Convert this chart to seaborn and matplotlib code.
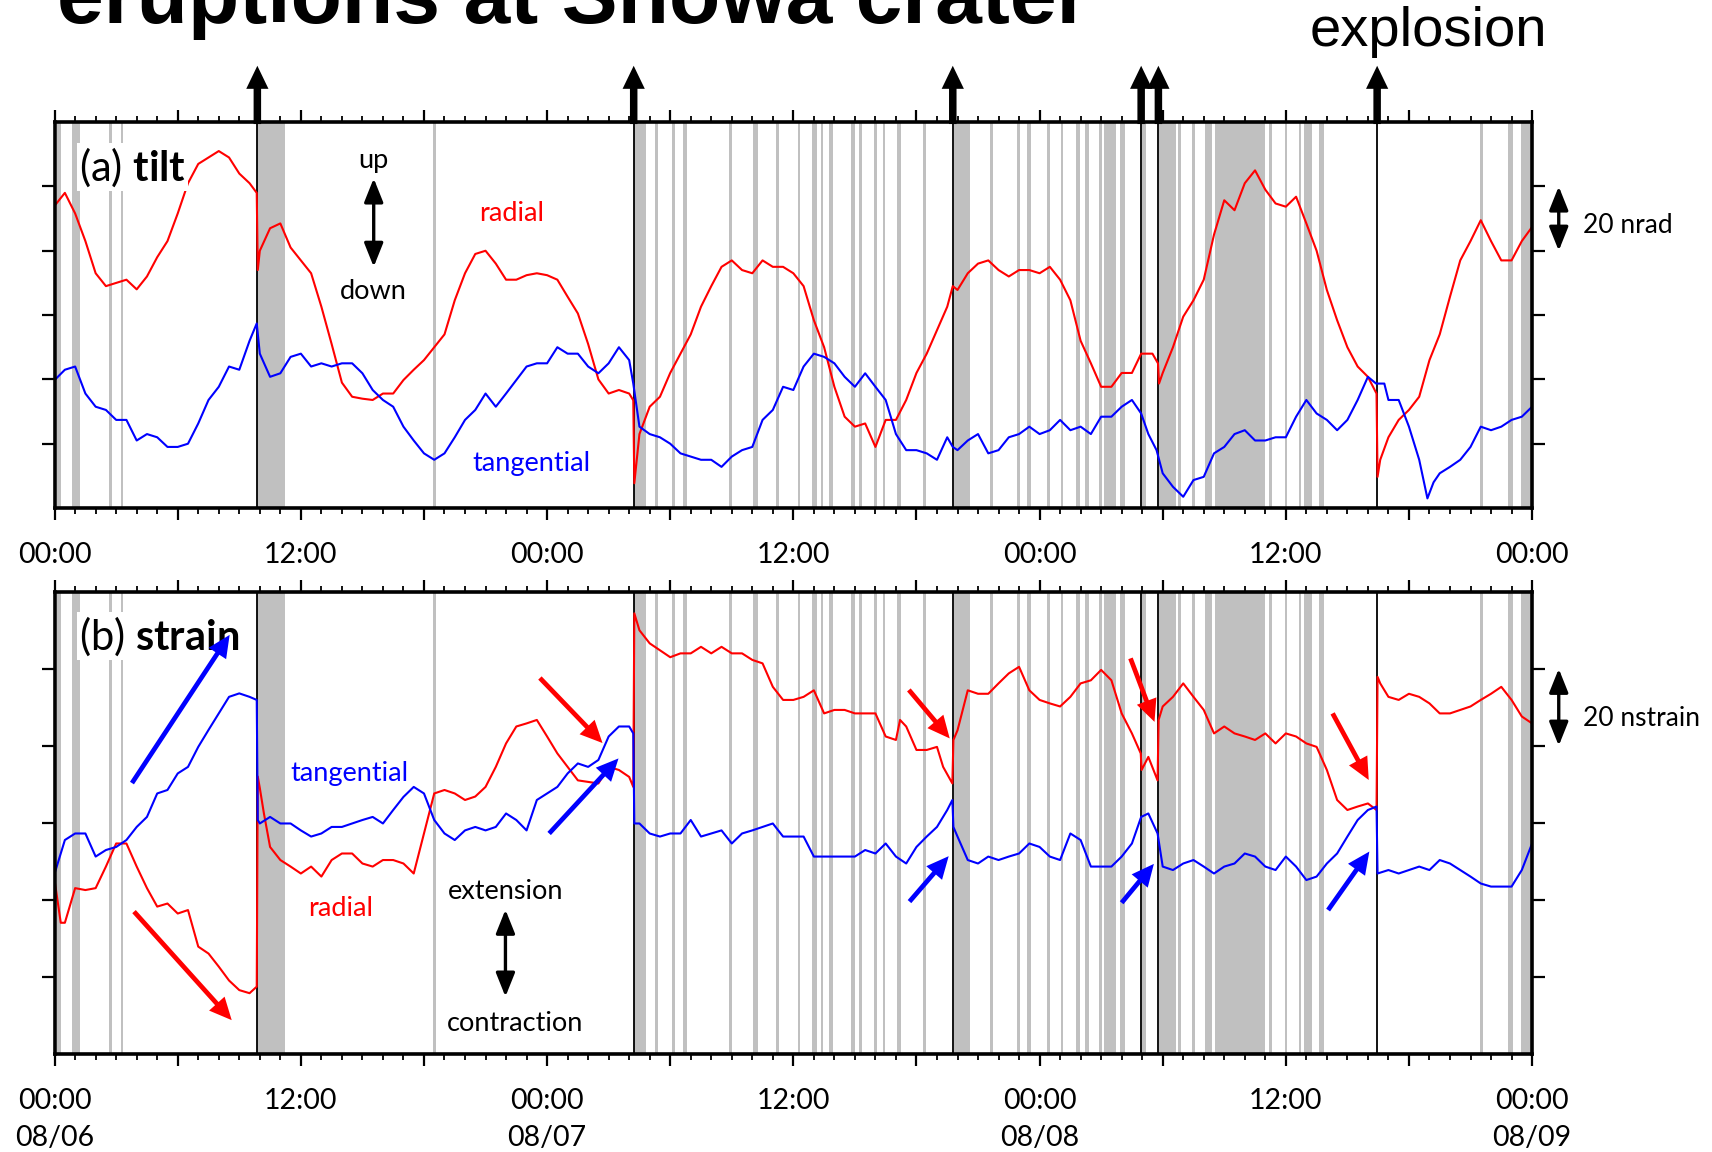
import matplotlib
matplotlib.use("Agg")
import matplotlib.pyplot as plt
import seaborn as sns
from matplotlib.ticker import FixedLocator, MultipleLocator

# ---------------- data (hours since 2011-08-06 00:00) ----------------
explosion_hours = [9.88, 28.22, 43.77, 52.95, 53.79, 64.45]

eruption_bands = [
    (0.14, 0.32), (0.83, 1.26), (2.65, 2.78), (3.25, 3.31), (9.88, 11.24),
    (18.43, 18.61), (28.23, 28.82), (29.25, 29.40), (30.09, 30.22), (30.62, 30.80),
    (32.86, 33.00), (34.05, 34.30), (35.17, 35.28), (36.22, 36.34), (36.90, 37.15),
    (37.33, 37.46), (37.75, 37.93), (38.79, 39.02), (39.18, 39.35), (39.95, 40.08),
    (40.36, 40.49), (41.07, 41.25), (42.32, 42.45), (43.81, 44.61), (45.58, 45.73),
    (46.89, 47.04), (47.41, 47.56), (48.34, 48.53), (49.03, 49.16), (49.78, 49.99),
    (50.21, 50.39), (50.90, 51.03), (51.14, 51.74), (51.93, 52.15), (53.01, 53.19),
    (53.83, 54.63), (54.73, 54.87), (55.45, 55.59), (56.08, 56.41), (56.55, 58.97),
    (59.18, 59.35), (59.98, 60.08), (60.66, 60.75), (60.89, 61.27), (61.60, 61.87),
    (69.48, 69.61), (70.83, 71.09), (71.44, 71.93),
]

tilt_radial_t = [0, 0.5, 1, 1.5, 2, 2.5, 3, 3.5, 4, 4.5, 5, 5.5, 6, 6.5, 7, 7.5, 8, 8.5, 9, 9.5, 9.85, 9.9, 10, 10.5, 11, 11.5, 12, 12.5, 13, 13.5, 14, 14.5, 15, 15.5, 16, 16.5, 17, 17.5, 18, 18.5, 19, 19.5, 20, 20.5, 21, 21.5, 22, 22.5, 23, 23.5, 24, 24.5, 25, 25.5, 26, 26.5, 27, 27.5, 28, 28.2, 28.25, 28.5, 29, 29.5, 30, 30.5, 31, 31.5, 32, 32.5, 33, 33.5, 34, 34.5, 35, 35.5, 36, 36.5, 37, 37.5, 38, 38.5, 39, 39.5, 40, 40.5, 41, 41.5, 42, 42.5, 43, 43.5, 43.77, 44, 44.5, 45, 45.5, 46, 46.5, 47, 47.5, 48, 48.5, 49, 49.5, 50, 50.5, 51, 51.5, 52, 52.5, 52.95, 53.5, 53.77, 53.82, 54, 54.5, 55, 55.5, 56, 56.5, 57, 57.5, 58, 58.5, 59, 59.5, 60, 60.5, 61, 61.5, 62, 62.5, 63, 63.5, 64, 64.42, 64.47, 64.6, 65, 65.5, 66, 66.5, 67, 67.5, 68, 68.5, 69, 69.5, 70, 70.5, 71, 71.5, 72]
tilt_radial_v = [94, 98, 91.6, 83, 73, 69, 70, 71, 68, 72, 78, 83, 91.6, 101, 107, 109, 111, 109, 104, 101, 98, 74, 80, 87, 88.5, 81, 77, 73, 62.6, 51, 39, 34.6, 34, 33.6, 35.6, 35.6, 39.8, 43, 46, 50, 54, 64.6, 73, 79, 80, 76, 71, 71, 72.4, 73, 72.4, 71, 65.7, 60.5, 51, 40, 35.6, 36.7, 35.6, 33.5, 7.7, 23, 31.5, 34.6, 42, 48, 54, 62.6, 69, 75, 77, 74, 73, 77, 75, 75, 73, 69, 58.4, 50, 37.7, 28.4, 25.3, 26.3, 19, 27.4, 27.4, 33.6, 42, 48, 55.3, 62.6, 69, 67.8, 73, 76, 77, 74, 72, 74, 74, 73, 75, 71, 64.6, 52, 45, 37.7, 37.7, 42, 42, 48, 48, 45, 38.7, 42, 50, 59.5, 64.6, 71, 85, 95.7, 92.6, 101, 105, 99, 94.7, 93.7, 96.8, 88.5, 80, 67.8, 58.4, 50, 44, 40.8, 35.6, 9.7, 15, 22, 27.4, 30.5, 34.6, 46, 54, 65.7, 77, 83, 89.5, 83, 77, 77, 83, 87.4]

tilt_tangential_t = [0, 0.5, 1, 1.5, 2, 2.5, 3, 3.5, 4, 4.5, 5, 5.5, 6, 6.5, 7, 7.5, 8, 8.5, 9, 9.5, 9.85, 10, 10.5, 11, 11.5, 12, 12.5, 13, 13.5, 14, 14.5, 15, 15.5, 16, 16.5, 17, 17.5, 18, 18.5, 19, 19.5, 20, 20.5, 21, 21.5, 22, 22.5, 23, 23.5, 24, 24.5, 25, 25.5, 26, 26.5, 27, 27.5, 28, 28.2, 28.5, 29, 29.5, 30, 30.5, 31, 31.5, 32, 32.5, 33, 33.5, 34, 34.5, 35, 35.5, 36, 36.5, 37, 37.5, 38, 38.5, 39, 39.5, 40, 40.5, 41, 41.5, 42, 42.5, 43, 43.5, 43.77, 44, 44.5, 45, 45.5, 46, 46.5, 47, 47.5, 48, 48.5, 49, 49.5, 50, 50.5, 51, 51.5, 52, 52.5, 52.95, 53.3, 53.7, 54, 54.5, 55, 55.5, 56, 56.5, 57, 57.5, 58, 58.5, 59, 59.5, 60, 60.5, 61, 61.5, 62, 62.5, 63, 63.5, 64, 64.4, 64.8, 65, 65.5, 66, 66.5, 66.9, 67.2, 67.5, 68, 68.5, 69, 69.5, 70, 70.5, 71, 71.5, 72]
tilt_tangential_v = [39.8, 43, 44, 35.6, 31.5, 30.5, 27.4, 27.4, 21, 23, 22, 19, 19, 20, 26.3, 33.6, 37.7, 44, 43, 52, 57.4, 48, 40.8, 41.9, 47, 48, 44, 45, 44, 45, 45, 41.9, 36.7, 33.6, 31.5, 25.3, 21, 17, 15, 17, 22, 27.4, 30.5, 35.6, 31.5, 35.6, 39.8, 44, 45, 45, 50, 48, 48, 44, 41.9, 45, 50, 46, 38.7, 25.3, 23, 22, 20, 17, 16, 15, 15, 12.8, 16, 18, 19, 27.4, 30.5, 37.7, 36.7, 44, 48, 47, 45, 40.8, 37.7, 41.9, 37.7, 33.6, 23, 18, 18, 17, 15, 22, 19, 18, 21, 23, 17, 18, 22, 23, 25.3, 23, 24.2, 27.4, 24.2, 25.3, 23, 28.4, 28.4, 31.5, 33.6, 29.4, 23, 18, 10.8, 6.6, 3.5, 8.7, 9.7, 17, 19, 23, 24.2, 21, 21, 22, 22, 28.4, 33.6, 29.4, 27.4, 24.2, 27.4, 33.6, 40.8, 38.7, 38.7, 33.6, 33.6, 25.3, 15, 3, 8, 10.8, 12.8, 15, 19, 25.3, 24.2, 25.3, 27.4, 28.4, 31.5]

strain_radial_t = [0, 0.3, 0.5, 1, 1.5, 2, 2.5, 3, 3.5, 4, 4.5, 5, 5.5, 6, 6.5, 7, 7.5, 8, 8.5, 9, 9.5, 9.85, 9.9, 10, 10.2, 10.5, 11, 11.5, 12, 12.5, 13, 13.5, 14, 14.5, 15, 15.5, 16, 16.5, 17, 17.5, 18, 18.5, 19, 19.5, 20, 20.5, 21, 21.5, 22, 22.5, 23, 23.5, 24, 24.5, 25, 25.5, 26, 26.5, 27, 27.5, 28, 28.2, 28.25, 28.5, 29, 29.5, 30, 30.5, 31, 31.5, 32, 32.5, 33, 33.5, 34, 34.5, 35, 35.5, 36, 36.5, 37, 37.5, 38, 38.5, 39, 39.5, 40, 40.5, 41, 41.2, 41.5, 42, 42.5, 43, 43.3, 43.75, 43.8, 44, 44.5, 45, 45.5, 46, 46.5, 47, 47.5, 48, 48.5, 49, 49.5, 50, 50.5, 51, 51.5, 52, 52.5, 52.93, 52.97, 53.3, 53.75, 53.8, 54, 54.5, 55, 55.5, 56, 56.5, 57, 57.5, 58, 58.5, 59, 59.5, 60, 60.5, 61, 61.5, 62, 62.5, 63, 63.5, 64, 64.42, 64.47, 64.6, 65, 65.5, 66, 66.5, 67, 67.5, 68, 68.5, 69, 69.5, 70, 70.5, 71, 71.5, 72]
strain_radial_v = [45, 34, 34, 43, 42.5, 43, 48.6, 54.6, 54.6, 48.6, 43, 38.2, 39, 36.4, 37.3, 27.8, 26, 22.6, 19, 16.5, 15.7, 17.4, 72, 69, 62.4, 53.7, 50.3, 48.6, 46.8, 48.6, 46, 50.3, 52, 52, 49.4, 48.6, 50.3, 50.3, 49.4, 46.8, 57.2, 67.6, 68.5, 67.6, 65.9, 66.8, 69.3, 74.5, 80.6, 85, 85.8, 86.7, 82.4, 78, 74.5, 71, 70.6, 70.2, 74.5, 73.7, 71.9, 69.3, 114.4, 110, 106.6, 104.8, 103, 104, 104, 105.7, 104, 105.7, 104, 104, 102.3, 101.4, 95.3, 91.9, 91.9, 92.7, 94.4, 88.4, 89.3, 89.3, 88.4, 88.4, 88.4, 82.4, 81.5, 86.7, 85, 78.9, 78.9, 79.7, 74.5, 70.2, 81.5, 84, 94.4, 93.5, 93.5, 96.2, 98.8, 100.5, 94.4, 91.9, 91, 90.2, 92.7, 96.2, 97, 99.7, 97, 88.4, 83.2, 78, 73.7, 77.1, 71, 86.7, 90.2, 92.7, 96.2, 92.7, 89.3, 83.2, 85, 83.2, 82.4, 81.5, 83.2, 80.6, 83.2, 82.4, 80.6, 79.7, 73.7, 65.9, 63.3, 64.2, 65, 63.3, 97.9, 96.2, 92.7, 91.9, 93.5, 92.7, 91, 88.4, 88.4, 89.3, 90.2, 91.9, 93.5, 95.3, 91.9, 87.6, 85.8]

strain_tangential_t = [0, 0.5, 1, 1.5, 2, 2.5, 3, 3.5, 4, 4.5, 5, 5.5, 6, 6.5, 7, 7.5, 8, 8.5, 9, 9.5, 9.85, 9.9, 10, 10.5, 11, 11.5, 12, 12.5, 13, 13.5, 14, 14.5, 15, 15.5, 16, 16.5, 17, 17.5, 18, 18.5, 19, 19.5, 20, 20.5, 21, 21.5, 22, 22.5, 23, 23.5, 24, 24.5, 25, 25.5, 26, 26.5, 27, 27.5, 28, 28.2, 28.25, 28.5, 29, 29.5, 30, 30.5, 31, 31.5, 32, 32.5, 33, 33.5, 34, 34.5, 35, 35.5, 36, 36.5, 37, 37.5, 38, 38.5, 39, 39.5, 40, 40.5, 41, 41.5, 42, 42.5, 43, 43.5, 43.75, 43.8, 44, 44.5, 45, 45.5, 46, 46.5, 47, 47.5, 48, 48.5, 49, 49.5, 50, 50.5, 51, 51.5, 52, 52.5, 52.95, 53.3, 53.75, 53.8, 54, 54.5, 55, 55.5, 56, 56.5, 57, 57.5, 58, 58.5, 59, 59.5, 60, 60.5, 61, 61.5, 62, 62.5, 63, 63.5, 64, 64.42, 64.47, 65, 65.5, 66, 66.5, 67, 67.5, 68, 68.5, 69, 69.5, 70, 70.5, 71, 71.5, 72]
strain_tangential_v = [46.8, 55.5, 57.2, 57.2, 51.2, 52.9, 53.7, 55.5, 58.9, 61.5, 67.6, 68.5, 72.8, 74.5, 79.7, 84.1, 88.4, 92.7, 93.6, 92.7, 91.9, 60.7, 59.8, 61.5, 59.8, 59.8, 58, 56.4, 57.2, 58.9, 58.9, 59.8, 60.7, 61.5, 59.8, 63.3, 66.7, 69.3, 67.6, 60.7, 57.2, 55.5, 58, 58.9, 58, 58.9, 62.4, 60.7, 58, 65.9, 67.6, 69.3, 72.8, 75.4, 74.5, 76.3, 82.4, 85, 85, 83.2, 59.8, 59.8, 57.2, 56.4, 57.2, 57.2, 60.7, 56.4, 57.2, 58, 54.6, 57.2, 58, 58.9, 59.8, 56.4, 56.4, 56.4, 51.2, 51.2, 51.2, 51.2, 51.2, 52.9, 52, 54.6, 51.2, 49.4, 53.7, 56.4, 58.9, 63.3, 65.9, 58.9, 56.4, 50.3, 49.4, 51.2, 50.3, 51.2, 52, 54.6, 53.7, 51.2, 50.3, 57.2, 55.5, 48.6, 48.6, 48.6, 51.2, 54.6, 61.5, 62.4, 57.2, 55.5, 48.6, 47.7, 49.4, 50.3, 48.6, 46.8, 48.6, 49.4, 52, 51.2, 48.6, 47.7, 51.2, 48.6, 45.1, 46, 49.4, 52, 56.4, 60.7, 63.3, 64.2, 46.8, 47.7, 46.8, 47.7, 48.6, 47.7, 50.3, 49.4, 47.7, 46, 44.2, 43.4, 43.4, 43.4, 47.7, 54.6]

tick_hours = [0, 6, 12, 18, 24, 30, 36, 42, 48, 54, 60, 66, 72]
tilt_tick_labels = ["00:00", "", "12:00", "", "00:00", "", "12:00", "", "00:00", "", "12:00", "", "00:00"]
strain_tick_labels = ["00:00\n08/06", "", "12:00", "", "00:00\n08/07", "", "12:00", "",
                      "00:00\n08/08", "", "12:00", "", "00:00\n08/09"]

# ---------------- style ----------------
sns.set_theme(style="white")
plt.rcParams["font.family"] = ["Lato", "DejaVu Sans"]
plt.rcParams["mathtext.fontset"] = "custom"
plt.rcParams["mathtext.rm"] = "Lato"
plt.rcParams["mathtext.bf"] = "Lato:bold"
plt.rcParams["text.color"] = "black"

RED = "#ff0000"
BLUE = "#0000ff"
GRAY = "#c0c0c0"

fig = plt.figure(figsize=(17.12, 11.52), dpi=100)
ax_a = fig.add_axes([0.0319, 0.559, 0.863, 0.335])
ax_b = fig.add_axes([0.0319, 0.0854, 0.863, 0.4009])


def style_axis(ax, labels):
    ax.set_xlim(0, 72)
    ax.set_ylim(0, 120)
    ax.xaxis.set_major_locator(FixedLocator(tick_hours))
    ax.set_xticklabels(labels)
    ax.xaxis.set_minor_locator(MultipleLocator(1))
    ax.yaxis.set_major_locator(FixedLocator([20, 40, 60, 80, 100]))
    ax.set_yticklabels([])
    ax.tick_params(axis="x", which="major", direction="out", bottom=True, top=True,
                   length=8.5, width=1.6, pad=16, labelsize=20.5, colors="black")
    ax.tick_params(axis="x", which="minor", direction="out", bottom=True, top=True,
                   length=4, width=1.3, colors="black")
    ax.tick_params(axis="y", which="major", direction="out", left=True, right=True,
                   length=9.5, width=1.6, colors="black")
    for s in ax.spines.values():
        s.set_visible(True)
        s.set_linewidth(2.6)
        s.set_color("black")
    for lab in ax.get_xticklabels():
        lab.set_linespacing(1.52)
        lab.set_color("black")
    ax.set_xlabel("")
    ax.set_ylabel("")
    ax.grid(False)
    for a, b in eruption_bands:
        ax.axvspan(a, b, color=GRAY, lw=0, zorder=0.5)
    for x in explosion_hours:
        ax.axvline(x, color="black", lw=1.3, zorder=1.5)


# panel (a) tilt
sns.lineplot(x=tilt_radial_t, y=tilt_radial_v, ax=ax_a, color=RED, linewidth=1.5,
             estimator=None, sort=False, legend=False, zorder=2)
sns.lineplot(x=tilt_tangential_t, y=tilt_tangential_v, ax=ax_a, color=BLUE, linewidth=1.5,
             estimator=None, sort=False, legend=False, zorder=2)
style_axis(ax_a, tilt_tick_labels)

# panel (b) strain
sns.lineplot(x=strain_radial_t, y=strain_radial_v, ax=ax_b, color=RED, linewidth=1.5,
             estimator=None, sort=False, legend=False, zorder=2)
sns.lineplot(x=strain_tangential_t, y=strain_tangential_v, ax=ax_b, color=BLUE, linewidth=1.5,
             estimator=None, sort=False, legend=False, zorder=2)
style_axis(ax_b, strain_tick_labels)

# explosion arrows above panel (a)
for x in explosion_hours:
    ax_a.annotate("", xy=(x, 1.146), xycoords=("data", "axes fraction"),
                  xytext=(x, 0.995), textcoords=("data", "axes fraction"),
                  arrowprops=dict(arrowstyle="simple,head_length=0.83,head_width=0.8,tail_width=0.27",
                                  lw=0, color="black", shrinkA=0, shrinkB=0,
                                  mutation_scale=20),
                  annotation_clip=False)

# panel labels
ax_a.text(1.17, 106, "(a) $\\mathbf{tilt}$", fontsize=30, ha="left", va="center",
          bbox=dict(facecolor="white", edgecolor="none", pad=1.5), zorder=3)
ax_b.text(1.17, 108.5, "(b) $\\mathbf{strain}$", fontsize=30, ha="left", va="center",
          bbox=dict(facecolor="white", edgecolor="none", pad=1.5), zorder=3)

dbl = dict(arrowstyle="<|-|>,head_length=0.8,head_width=0.32", lw=2.4, color="black",
           shrinkA=0, shrinkB=0, mutation_scale=18)

# panel (a) annotations
ax_a.annotate("", xy=(15.55, 102.5), xytext=(15.55, 75), arrowprops=dbl)
ax_a.text(15.55, 108, "up", fontsize=19.5, ha="center", va="center")
ax_a.text(15.55, 67.3, "down", fontsize=19.5, ha="center", va="center")
ax_a.text(22.25, 91.7, "radial", fontsize=19.5, color=RED, ha="center", va="center")
ax_a.text(23.26, 13.7, "tangential", fontsize=19.5, color=BLUE, ha="center", va="center")
ax_a.annotate("", xy=(73.3, 100), xytext=(73.3, 80), arrowprops=dbl, annotation_clip=False)
ax_a.text(74.5, 88, "20 nrad", fontsize=19, ha="left", va="center", clip_on=False)

# panel (b) annotations
ax_b.text(14.37, 72.9, "tangential", fontsize=19.5, color=BLUE, ha="center", va="center")
ax_b.text(13.95, 37.7, "radial", fontsize=19.5, color=RED, ha="center", va="center")
ax_b.text(21.98, 42, "extension", fontsize=19.5, ha="center", va="center")
ax_b.text(22.46, 7.95, "contraction", fontsize=19.5, ha="center", va="center")
ax_b.annotate("", xy=(21.97, 37.4), xytext=(21.97, 14.8), arrowprops=dbl)
ax_b.annotate("", xy=(73.3, 100), xytext=(73.3, 80), arrowprops=dbl, annotation_clip=False)
ax_b.text(74.5, 87.2, "20 nstrain", fontsize=19, ha="left", va="center", clip_on=False)

trend_arrows = [
    ((3.77, 70.3), (8.53, 108.8), BLUE),
    ((3.87, 36.9), (8.63, 8.7), RED),
    ((23.65, 97.6), (26.7, 80.7), RED),
    ((24.1, 57.2), (27.48, 76.7), BLUE),
    ((41.63, 94.5), (43.62, 81.9), RED),
    ((41.66, 39.5), (43.57, 51.3), BLUE),
    ((52.43, 102.7), (53.6, 86.2), RED),
    ((52.0, 39.2), (53.57, 49.3), BLUE),
    ((62.28, 88.4), (64.04, 71.1), RED),
    ((62.06, 37.3), (64.07, 52.5), BLUE),
]
for tail, head, col in trend_arrows:
    ax_b.annotate("", xy=head, xytext=tail,
                  arrowprops=dict(arrowstyle="simple,head_length=0.8,head_width=0.75,tail_width=0.17",
                                  lw=0, color=col, shrinkA=0, shrinkB=0,
                                  mutation_scale=20),
                  zorder=4)

# titles
fig.text(0.0333, 0.9803, "eruptions at Showa crater", fontsize=60.5, fontweight="bold",
         family="Liberation Sans", color="black", ha="left", va="baseline")
fig.text(0.7652, 0.960, "explosion", fontsize=40.5, family="Liberation Sans",
         color="black", ha="left", va="baseline")

fig.savefig("out.png", dpi=100)
